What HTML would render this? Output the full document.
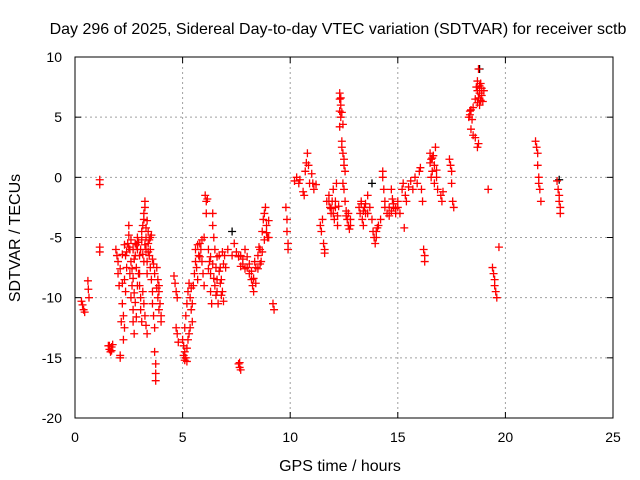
<!DOCTYPE html>
<html><head><meta charset="utf-8"><style>
body{margin:0;background:#fff}
svg{display:block;font-family:"Liberation Sans",sans-serif}
</style></head><body>
<svg id="chart" width="640" height="480">
<text x="338" y="34" font-size="16" text-anchor="middle">Day 296 of 2025, Sidereal Day-to-day VTEC variation (SDTVAR) for receiver sctb</text>
<text x="340" y="471" font-size="16" text-anchor="middle">GPS time / hours</text>
<text transform="translate(20,238) rotate(-90)" font-size="16" text-anchor="middle">SDTVAR / TECUs</text>
<g id="grid"></g><g id="marks"></g><g id="axes"></g>
</svg>
<script>
const xTicks=[0,5,10,15,20,25];
const yTicks=[10,5,0,-5,-10,-15,-20];
const redPoints=[
[0.3,-10.3],[0.35,-10.6],[0.4,-11.0],[0.45,-11.2],[0.6,-8.6],[0.62,-9.3],[0.65,-10.0],
[1.15,-0.2],[1.15,-0.6],[1.15,-5.8],[1.15,-6.2],
[1.55,-14.0],[1.6,-14.3],[1.65,-14.5],[1.7,-14.1],[1.75,-13.9],[1.6,-14.0],[1.7,-14.4],
[1.9,-6.0],[1.95,-6.5],[2.0,-7.0],[2.0,-8.0],[2.05,-9.0],[2.1,-15.0],[2.1,-14.8],[2.15,-12.0],
[2.2,-10.5],[2.25,-11.5],[2.3,-12.5],[2.25,-13.5],[2.35,-9.5],[2.3,-8.5],[2.4,-7.5],[2.35,-6.5],
[2.45,-5.5],[2.5,-4.8],[2.5,-4.0],[2.55,-6.0],[2.6,-7.0],[2.55,-8.0],[2.65,-9.0],[2.6,-10.0],
[2.7,-11.0],[2.7,-12.0],[2.75,-13.0],[2.8,-6.5],[2.8,-5.5],[2.85,-7.5],[2.9,-5.0],[2.9,-6.0],
[2.95,-8.0],[3.0,-6.5],[3.0,-9.0],[3.05,-10.0],[3.05,-11.0],[3.1,-12.0],[3.1,-4.5],[3.15,-4.0],
[3.2,-3.5],[3.2,-3.0],[3.25,-2.5],[3.25,-2.0],[3.3,-5.0],[3.3,-6.0],[3.35,-7.0],[3.35,-8.0],
[3.4,-5.5],[3.4,-4.5],[3.45,-6.5],[3.5,-5.0],[3.5,-7.5],[3.55,-8.5],[3.6,-9.5],[3.6,-10.5],
[3.65,-11.5],[3.7,-12.5],[3.7,-14.5],[3.75,-15.5],[3.75,-16.3],[3.75,-16.9],[3.8,-7.5],
[3.85,-8.5],[3.9,-9.5],[3.95,-10.5],[4.0,-11.5],[4.0,-12.0],[3.9,-9.0],
[2.4,-6.2],[2.5,-5.8],[2.6,-5.2],[2.7,-6.0],[2.75,-6.8],[2.85,-5.6],[2.95,-5.4],[3.05,-6.0],
[3.1,-5.2],[3.15,-6.4],[3.2,-7.0],[3.25,-5.6],[3.3,-4.2],[3.35,-3.6],[3.4,-6.2],[3.45,-5.2],
[3.5,-6.0],[3.55,-4.8],[2.65,-7.6],[2.7,-8.4],[2.75,-9.6],[2.8,-10.4],[2.85,-11.6],[2.9,-9.0],
[3.0,-8.0],[3.15,-9.5],[3.2,-10.5],[3.25,-11.5],[3.3,-12.3],[3.35,-13.0],[2.2,-6.4],[2.3,-5.6],
[2.1,-7.6],[2.2,-8.8],[3.6,-6.8],[3.65,-7.2],[3.7,-8.0],[3.8,-9.2],[3.85,-10.0],[3.9,-11.0],
[4.6,-8.2],[4.65,-8.8],[4.7,-9.5],[4.75,-10.0],[4.7,-12.5],[4.75,-13.0],[4.8,-13.7],
[5.0,-13.5],[5.05,-14.0],[5.1,-14.5],[5.15,-15.0],[5.2,-15.3],[5.1,-12.5],[5.15,-11.5],
[5.2,-10.5],[5.25,-9.5],[5.3,-8.8],[5.35,-10.0],[5.4,-11.0],[5.45,-12.0],[5.3,-13.0],
[5.05,-14.8],[5.1,-15.2],[5.2,-14.2],[5.25,-13.5],[5.35,-12.5],[5.4,-9.2],[5.45,-10.5],
[5.5,-9.0],[5.55,-8.0],[5.6,-7.0],[5.65,-7.5],[5.7,-8.5],[5.75,-6.5],[5.8,-5.5],[5.85,-6.0],
[5.9,-7.0],[5.95,-8.0],[6.0,-9.0],[6.0,-5.0],[6.05,-1.5],[6.1,-2.0],[6.1,-3.0],[6.15,-1.8],
[6.2,-6.0],[6.25,-7.0],[6.3,-8.0],[6.3,-9.5],[6.35,-10.5],[6.4,-3.0],[6.4,-4.0],[6.45,-5.0],
[6.5,-6.0],[6.55,-7.5],[6.6,-8.5],[6.6,-9.5],[6.65,-10.5],[6.7,-6.5],[6.75,-7.5],[6.8,-8.5],
[6.85,-9.5],[6.9,-10.3],[6.95,-6.5],[7.0,-7.5],[7.1,-6.0],[7.3,-6.5],[7.4,-5.5],[7.5,-6.2],
[5.6,-6.0],[5.7,-5.6],[5.8,-6.6],[5.9,-5.2],[6.2,-7.6],[6.3,-6.6],[6.4,-7.2],[6.45,-8.4],
[6.5,-9.0],[6.55,-9.8],[6.6,-6.6],[6.7,-7.8],[6.75,-8.8],[6.8,-9.8],[6.85,-6.2],[6.9,-7.2],
[7.6,-15.5],[7.65,-15.8],[7.7,-16.0],[7.65,-15.4],[7.7,-6.5],[7.8,-7.2],[7.9,-6.0],[8.0,-7.5],
[8.1,-8.0],[8.2,-8.5],[8.25,-9.0],[8.3,-9.5],[8.35,-7.0],[8.4,-7.5],[8.5,-6.5],[8.55,-5.8],
[8.6,-6.0],[8.65,-7.0],[8.7,-4.5],[8.75,-3.5],[8.8,-3.0],[8.85,-2.5],[8.9,-4.0],[8.95,-5.0],
[7.6,-6.6],[7.7,-7.4],[7.8,-6.8],[7.9,-7.6],[8.0,-6.6],[8.1,-7.2],[8.2,-7.8],[8.3,-8.4],
[8.4,-8.8],[8.5,-7.6],[8.6,-7.2],[8.7,-6.2],[8.8,-5.2],[8.9,-4.6],[9.0,-3.6],
[9.0,-5.0],[9.2,-10.5],[9.25,-11.0],[9.8,-2.5],[9.85,-3.5],[9.85,-4.5],[9.9,-5.5],[9.9,-6.0],
[10.2,-0.3],[10.3,0.0],[10.4,-0.5],[10.45,-0.2],[10.6,-1.2],[10.65,-1.5],[10.7,0.5],[10.75,1.2],
[10.8,2.0],[10.85,1.0],[10.9,-0.5],[11.0,0.3],[11.05,-0.5],[11.1,-1.0],[11.2,-0.6],
[11.4,-4.0],[11.45,-4.5],[11.5,-3.5],[11.55,-5.5],[11.6,-6.0],[11.6,-6.3],[11.7,-2.0],
[11.8,-1.5],[11.85,-2.5],[11.9,-3.0],[11.95,-2.0],[12.0,-1.0],[12.05,-3.5],[12.1,-2.5],
[12.15,-0.5],[12.2,-4.0],[12.3,7.0],[12.3,6.5],[12.35,6.0],[12.3,5.5],[12.35,5.0],[12.3,4.2],
[12.4,3.0],[12.4,2.5],[12.45,2.0],[12.5,1.5],[12.5,1.0],[12.55,0.5],[12.45,-0.5],[12.5,-1.0],
[12.55,-2.0],[12.6,-2.8],[12.65,-3.5],[12.7,-4.0],[12.75,-4.3],[12.8,-3.5],
[11.8,-2.0],[11.9,-2.6],[12.0,-3.0],[12.1,-2.0],[12.2,-3.2],[12.25,-2.4],[12.6,-3.2],[12.7,-3.0],
[12.8,-4.0],[12.35,6.6],[12.4,5.4],[12.45,4.4],
[13.2,-2.5],[13.25,-3.0],[13.3,-2.0],[13.35,-3.5],[13.4,-4.0],[13.45,-2.5],[13.5,-3.0],
[13.6,-1.5],[13.7,-2.5],[13.8,-3.5],[13.85,-4.5],[13.9,-5.0],[13.95,-5.5],[14.0,-4.5],
[14.1,-4.0],[14.2,-3.5],[14.3,0.5],[14.3,0.0],[14.35,-1.0],[14.4,-2.0],[14.4,-2.5],
[14.5,-3.0],[14.6,-2.5],[14.7,-1.0],[14.75,-1.8],[14.8,-2.5],[14.9,-3.0],[15.0,-2.5],
[15.1,-3.0],[15.2,-1.0],[15.25,-0.5],[15.3,-4.2],[15.35,-1.5],[15.4,-2.0],[15.5,-0.8],
[13.3,-2.2],[13.4,-2.8],[13.5,-2.2],[13.6,-3.0],[14.0,-5.0],[14.05,-4.2],[14.6,-3.2],[14.7,-2.8],
[14.8,-2.2],[14.9,-2.6],[15.0,-2.0],
[15.6,-0.3],[15.7,-1.0],[15.8,0.0],[15.9,-0.5],[16.0,0.5],[16.05,0.8],[16.1,-1.0],[16.15,-2.0],
[16.2,-6.0],[16.25,-6.5],[16.25,-7.0],[16.5,2.0],[16.55,1.5],[16.6,0.5],[16.65,1.8],
[16.7,-0.5],[16.75,2.5],[16.8,0.0],[16.85,-1.0],[17.0,-1.5],[17.05,-2.0],[17.1,-1.2],
[16.5,1.2],[16.6,1.6],[16.7,1.0],[16.8,0.6],[16.55,0.0],
[17.4,1.5],[17.45,1.0],[17.5,0.5],[17.5,-0.5],[17.55,-2.0],[17.6,-2.5],
[18.3,5.0],[18.35,5.5],[18.4,4.0],[18.45,4.8],[18.5,5.8],[18.5,3.5],[18.6,6.5],[18.65,7.5],
[18.7,8.0],[18.75,9.0],[18.8,7.0],[18.8,6.0],[18.85,7.8],[18.9,6.8],[18.95,6.3],[19.0,7.2],
[18.6,3.3],[18.7,2.5],[18.75,2.8],[19.2,-1.0],[19.4,-7.5],[19.45,-8.0],[19.5,-8.5],[19.5,-9.0],
[18.35,5.2],[18.4,5.6],[18.7,7.2],[18.75,6.6],[18.8,7.6],[18.85,6.4],[18.9,7.4],[18.7,6.2],
[19.55,-9.5],[19.6,-10.0],[19.7,-5.8],
[21.4,3.0],[21.45,2.5],[21.5,2.0],[21.5,1.0],[21.55,0.0],[21.55,-0.5],[21.6,-1.0],[21.65,-2.0],
[22.4,-0.3],[22.45,-1.0],[22.5,-1.5],[22.5,-2.0],[22.55,-2.5],[22.55,-3.0]
];
const blackPoints=[[7.3,-4.5],[13.8,-0.5],[18.8,9.0],[22.5,-0.2]];
const NS='http://www.w3.org/2000/svg';
const L=75,R=613,T=57,B=418;
function xs(t){return L+(t-0)/(25-0)*(R-L);}
function ys(v){return B-(v+20)/(10+20)*(B-T);}
function mk(tag,attrs,parent){const e=document.createElementNS(NS,tag);for(const k in attrs)e.setAttribute(k,attrs[k]);parent.appendChild(e);return e;}
const grid=document.getElementById('grid'),axes=document.getElementById('axes'),marks=document.getElementById('marks');
xTicks.forEach(t=>{
  const x=xs(t);
  if(t>0&&t<25){const g=mk('line',{x1:x,x2:x,y1:T,y2:B,stroke:'#a0a0a0','stroke-dasharray':'2,3'},grid);
  
  }
  mk('line',{x1:x,x2:x,y1:B,y2:B-6,stroke:'#000'},axes);
  mk('line',{x1:x,x2:x,y1:T,y2:T+6,stroke:'#000'},axes);
  const lb=mk('text',{x:x,y:B+24,'font-size':14,'text-anchor':'middle'},axes);lb.textContent=t;
  
  
});
yTicks.forEach(v=>{
  const y=ys(v);
  if(v>-20&&v<10){const g=mk('line',{x1:L,x2:R,y1:y,y2:y,stroke:'#a0a0a0','stroke-dasharray':'2,3'},grid);
  
  }
  mk('line',{x1:L,x2:L+6,y1:y,y2:y,stroke:'#000'},axes);
  mk('line',{x1:R,x2:R-6,y1:y,y2:y,stroke:'#000'},axes);
  const lb=mk('text',{x:L-13,y:y+5,'font-size':14,'text-anchor':'end'},axes);lb.textContent=v;
  
  
});
const fr=mk('rect',{x:L,y:T,width:R-L,height:B-T,fill:'none',stroke:'#000'},axes);


function plus(p,color){
  const x=xs(p[0]),y=ys(p[1]);
  const g=mk('path',{d:`M${x-4},${y}h8M${x},${y-4}v8`,stroke:color,'stroke-width':1.3,fill:'none'},marks);
  
  
}
blackPoints.forEach(p=>plus(p,'#000'));
redPoints.forEach(p=>plus(p,'#f00'));
</script>
</body></html>
